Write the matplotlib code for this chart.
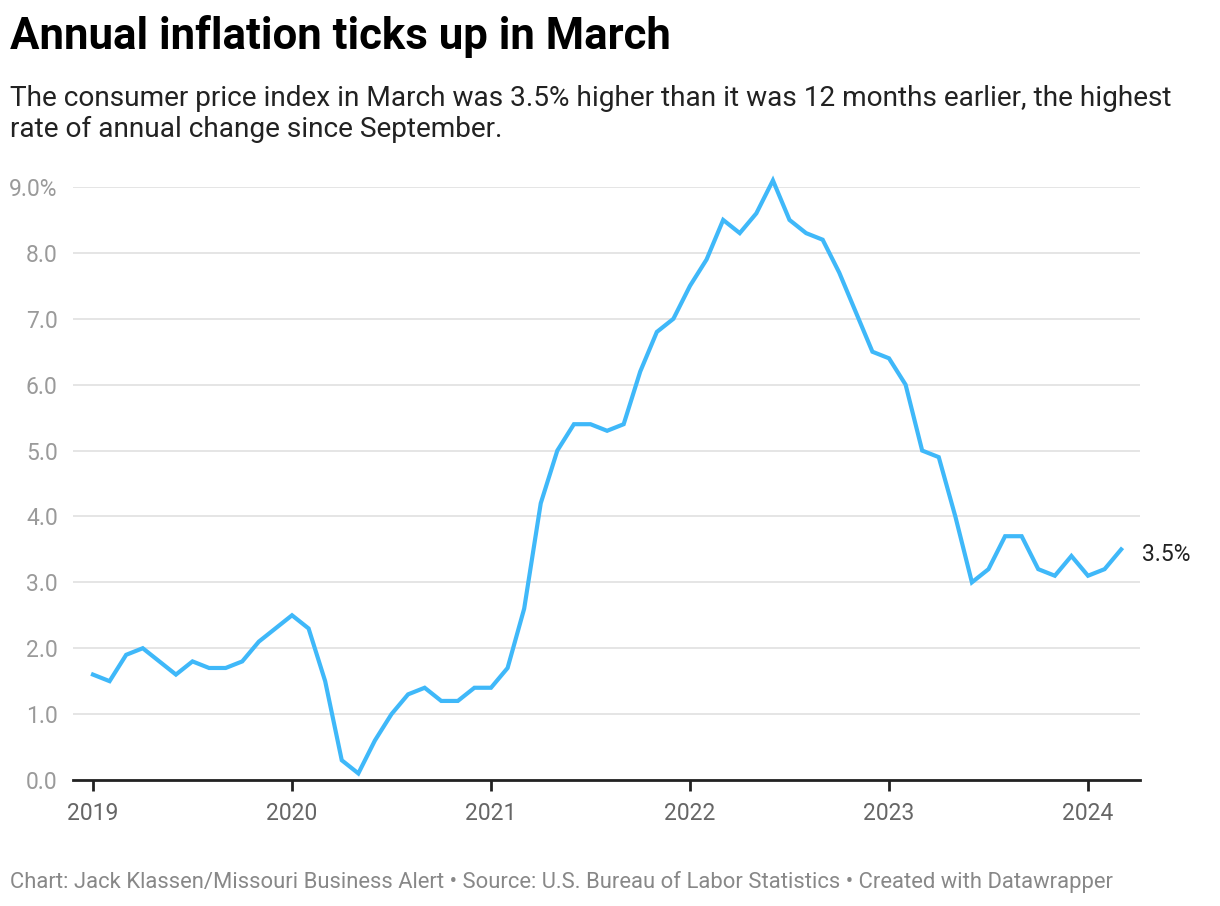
import numpy as np
import matplotlib
matplotlib.use("Agg")
import matplotlib.pyplot as plt

plt.rcParams['font.family'] = ['Roboto', 'DejaVu Sans']

# CPI, % change from 12 months earlier, Jan 2019 .. Mar 2024
cpi = [
    1.6, 1.5, 1.9, 2.0, 1.8, 1.6, 1.8, 1.7, 1.7, 1.8, 2.1, 2.3,
    2.5, 2.3, 1.5, 0.3, 0.1, 0.6, 1.0, 1.3, 1.4, 1.2, 1.2, 1.4,
    1.4, 1.7, 2.6, 4.2, 5.0, 5.4, 5.4, 5.3, 5.4, 6.2, 6.8, 7.0,
    7.5, 7.9, 8.5, 8.3, 8.6, 9.1, 8.5, 8.3, 8.2, 7.7, 7.1, 6.5,
    6.4, 6.0, 5.0, 4.9, 4.0, 3.0, 3.2, 3.7, 3.7, 3.2, 3.1, 3.4,
    3.1, 3.2, 3.5,
]
years = [2019, 2020, 2021, 2022, 2023, 2024]
yticks = [0, 1, 2, 3, 4, 5, 6, 7, 8, 9]

x = 2019 + np.arange(len(cpi)) / 12.0

W, H = 1220, 906
fig = plt.figure(figsize=(W / 100, H / 100), dpi=100)
ax = fig.add_axes([73 / W, 126 / H, (1140 - 73) / W, (780 - 187) / H])

ax.plot(x, cpi, color='#3fb8f9', lw=3, solid_joinstyle='miter', clip_on=False, zorder=3)

ax.set_xlim(2019 - 20 / 199, 2019 + 1047 / 199)
ax.set_ylim(0, 9)

ax.set_yticks(yticks)
ax.set_yticklabels([f"{v:.1f}%" if v == 9 else f"{v:.1f}" for v in yticks])
ax.set_xticks(years)
ax.set_xticklabels([str(y) for y in years])

ax.grid(axis='y', color='#e3e3e3', lw=1.3)
ax.set_axisbelow(True)
for s in ['top', 'right', 'left']:
    ax.spines[s].set_visible(False)
ax.spines['bottom'].set_color('#222222')
ax.spines['bottom'].set_linewidth(2)
ax.spines['bottom'].set_zorder(4)

ax.tick_params(axis='y', length=0, pad=11, labelsize=16.5, labelcolor='#9a9a9a')
ax.tick_params(axis='x', length=8, width=2, color='#222222', pad=8,
               labelsize=16.5, labelcolor='#666666')

ax.annotate(f"{cpi[-1]}%", xy=(x[-1], cpi[-1]), xytext=(15, -4),
            textcoords='offset points', fontsize=16.5, color='#222222',
            va='center', ha='left', annotation_clip=False)

fig.text(10 / W, 1 - 37 / H, "Annual inflation ticks up in March",
         fontsize=31.5, fontweight='bold', color='#000000', va='center', ha='left')
fig.text(10 / W, 1 - 114 / H,
         "The consumer price index in March was 3.5% higher than it was 12 months earlier, the highest\n"
         "rate of annual change since September.",
         fontsize=20.2, color='#222222', va='center', ha='left', linespacing=1.18)
fig.text(10 / W, 1 - 882 / H,
         "Chart: Jack Klassen/Missouri Business Alert \u2022 Source: U.S. Bureau of Labor Statistics \u2022 Created with Datawrapper",
         fontsize=15.8, color='#888888', va='center', ha='left')

fig.savefig("out.png", dpi=100, facecolor='white')
